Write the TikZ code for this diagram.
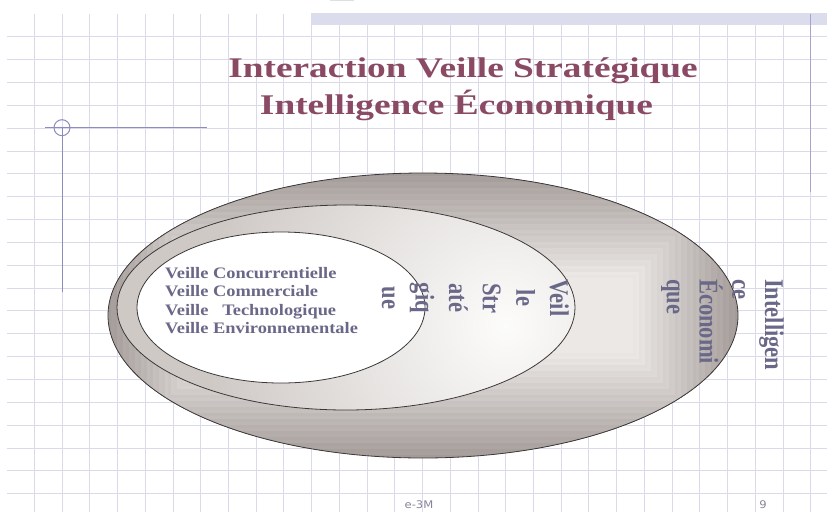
\documentclass[tikz,border=0pt]{standalone}
\usepackage{fontspec}
\setmainfont{Liberation Serif}
\newfontfamily\footfont{DejaVu Sans}
\definecolor{gridc}{HTML}{DADAEA}
\definecolor{bandc}{HTML}{DCDDEC}
\definecolor{rulec}{HTML}{A4A4CC}
\definecolor{crossc}{HTML}{8C8CC0}
\definecolor{titlec}{HTML}{8A4A64}
\definecolor{textc}{HTML}{6A6888}
\definecolor{edgec}{HTML}{3C3838}
\definecolor{ringdark}{HTML}{A39B98}
\definecolor{ringlight}{HTML}{EBE8E6}
\definecolor{midedge}{HTML}{CFC9C6}
\definecolor{midlight}{HTML}{FCFCFB}
\definecolor{footc}{HTML}{85859A}
\pgfdeclareradialshading{midrad}{\pgfpoint{0bp}{0bp}}{color(0bp)=(midlight); color(25bp)=(midedge); color(50bp)=(midedge)}
\begin{document}
\begin{tikzpicture}[x=1pt,y=-1pt,
  titletext/.style={text=titlec, inner sep=0pt, anchor=base, xscale=1.31,
    font=\fontsize{28.5}{34}\selectfont\bfseries},
  listtext/.style={text=textc, inner sep=0pt, align=left, xscale=1.15,
    font=\fontsize{16}{18.3}\selectfont\bfseries},
  vtext/.style={text=textc, inner sep=0pt, xscale=1.2, rotate=-90,
    font=\fontsize{22.5}{28}\selectfont\bfseries},
  foottext/.style={text=footc, inner sep=0pt, anchor=base, xscale=1.1,
    font=\fontsize{10.5}{12}\footfont},
  ellipseline/.style={draw=edgec, line width=0.8pt}]
\useasboundingbox (0,0) rectangle (827,512);
\fill[white] (0,0) rectangle (827,512);
% grid
\foreach \k in {0,...,28} \draw[gridc, line width=0.9pt] ({34.3+27.73*\k},14) -- ({34.3+27.73*\k},512);
\foreach \k in {0,...,20} \draw[gridc, line width=0.9pt] (6.7,{36.7+22.85*\k}) -- (827,{36.7+22.85*\k});
\fill[bandc] (311,13) rectangle (827,24.5);
\draw[rulec, line width=1.4pt] (810.5,14) -- (810.5,192);
% cropped glyph at the top edge
\fill[black] (330,0) arc [start angle=180, end angle=360, x radius=12, y radius=9] -- cycle;
% crosshair
\draw[crossc, line width=1pt] (45,127.7) -- (207,127.7);
\draw[crossc, line width=1pt] (62,127.7) circle (8);
\draw[crossc, line width=1pt] (62,127.7) -- (62,292);
% outer ellipse: rectangular gradient
\begin{scope}
  \clip (423,315.5) ellipse [x radius=315, y radius=142.5];
  \foreach \d in {0,3,...,141} {
    \pgfmathtruncatemacro\t{min(100,\d*0.95+5*mod(\d/3,2))}
    \fill[ringlight!\t!ringdark] (108+\d,173+\d) rectangle (738-\d,458-\d);
  }
\end{scope}
\draw[ellipseline] (423,315.5) ellipse [x radius=315, y radius=142.5];
% middle ellipse: radial gradient
\begin{scope}
  \clip (346,307.5) ellipse [x radius=229, y radius=102.5];
  \fill[midedge] (346,307.5) ellipse [x radius=229, y radius=102.5];
  \shade[shading=midrad] (505,325) circle (300);
\end{scope}
\draw[ellipseline] (346,307.5) ellipse [x radius=229, y radius=102.5];
% inner ellipse
\filldraw[fill=white, ellipseline] (281,307.5) ellipse [x radius=144, y radius=75.5];
% texts
\node[titletext] (t1) at (463,77) {Interaction Veille Stratégique};
\node[titletext] (t2) at (456.5,114) {Intelligence Économique};
\node[listtext, anchor=north west] (list) at (165,267.2)
  {Veille Concurrentielle\\Veille Commerciale\\Veille\ \ \ Technologique\\Veille Environnementale};
\node[vtext, align=center, anchor=north] (vs) at (569,298)
  {Veil\\le\\Str\\até\\giq\\ue};
\node[vtext, align=left, anchor=north west, font=\fontsize{22.5}{27.3}\selectfont\bfseries] (ie) at (784,279)
  {Intelligen\\ce\\Économi\\que};
\node[foottext] (foot) at (419,508) {e-3M};
\node[foottext] (num) at (763,508) {9};
\end{tikzpicture}
\end{document}
